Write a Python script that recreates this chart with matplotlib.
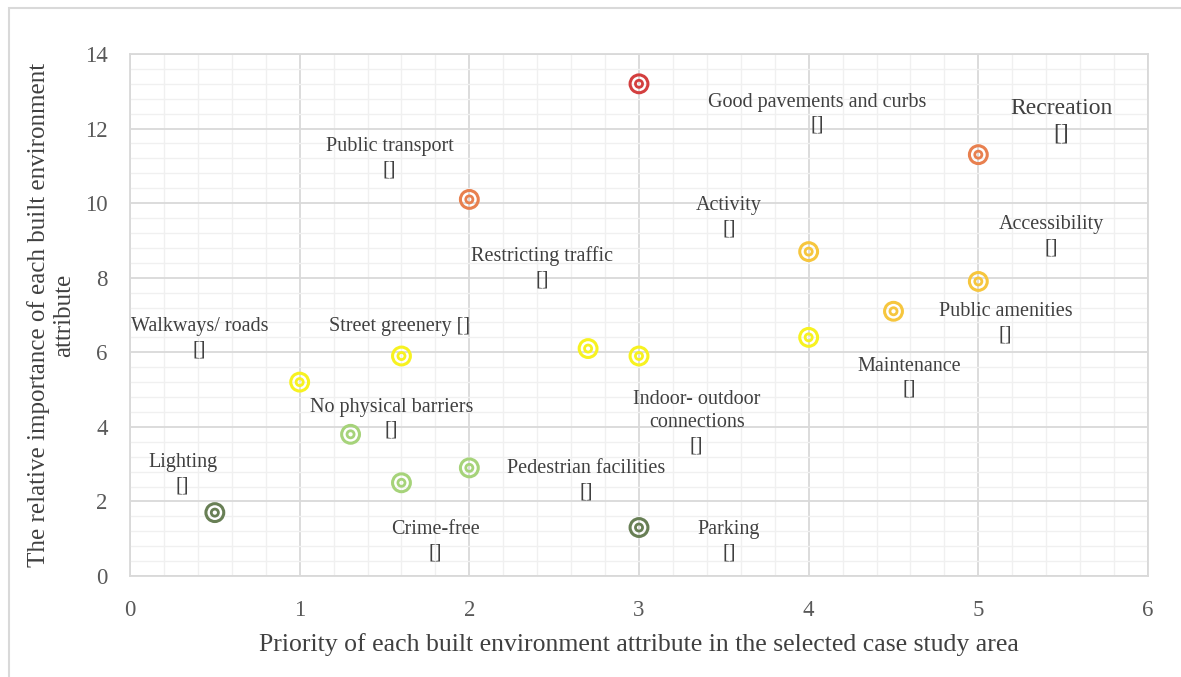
import matplotlib
matplotlib.use("Agg")
import matplotlib.pyplot as plt
from matplotlib.patches import Rectangle
from matplotlib.ticker import MultipleLocator

# Data
x_vals = [0.5, 1.0, 1.3, 1.6, 1.6, 2.0, 2.0, 2.7, 3.0, 3.0, 3.0, 4.0, 4.0, 4.5, 5.0, 5.0]
y_vals = [1.7, 5.2, 3.8, 5.9, 2.5, 2.9, 10.1, 6.1, 5.9, 13.2, 1.3, 8.7, 6.4, 7.1, 7.9, 11.3]
point_colors = ["#687f55", "#f7f220", "#a6d37a", "#f7f220", "#a6d37a", "#a6d37a",
                "#e8804f", "#f7f220", "#f7f220", "#d33f3f", "#687f55", "#f6c63e",
                "#f7f220", "#f6c63e", "#f6c63e", "#e8804f"]

label_texts = ["Public transport\n[]", "Good pavements and curbs\n[]", "Recreation\n[]",
               "Activity\n[]", "Accessibility\n[]", "Restricting traffic\n[]",
               "Walkways/ roads\n[]", "Street greenery []", "Public amenities\n[]",
               "Maintenance\n[]", "No physical barriers\n[]",
               "Indoor- outdoor\nconnections\n[]", "Lighting\n[]",
               "Pedestrian facilities\n[]", "Crime-free\n[]", "Parking\n[]"]
label_x = [1.53, 4.05, 5.49, 3.53, 5.43, 2.43, 0.41, 1.59, 5.16, 4.59, 1.54, 3.34, 0.31, 2.69, 1.8, 3.53]
label_y = [11.2, 12.4, 12.2, 9.62, 9.12, 8.27, 6.38, 6.7, 6.77, 5.32, 4.22, 4.12, 2.72, 2.57, 0.93, 0.93]

x_label = "Priority of each built environment attribute in the selected case study area"
y_label = "The relative importance of each built environment\nattribute"

FONT = ["Liberation Serif", "DejaVu Serif"]

fig = plt.figure(figsize=(11.81, 6.77), dpi=100)
fig.patches.append(Rectangle((9.5/1181, -0.1), 1.2, 1.1 - 8/677, transform=fig.transFigure,
                             fill=False, edgecolor="#d9d9d9", lw=1.5))
ax = fig.add_axes([130/1181, 1 - 576/677, (1148 - 130)/1181, (576 - 54)/677])

ax.set_xlim(0, 6)
ax.set_ylim(0, 14)
ax.xaxis.set_major_locator(MultipleLocator(1))
ax.yaxis.set_major_locator(MultipleLocator(2))
ax.xaxis.set_minor_locator(MultipleLocator(0.2))
ax.yaxis.set_minor_locator(MultipleLocator(0.4))
ax.grid(which="major", color="#d9d9d9", lw=1.3)
ax.grid(which="minor", color="#f0f0f0", lw=1.0)
ax.set_axisbelow(True)
for s in ax.spines.values():
    s.set_color("#d9d9d9")
    s.set_linewidth(1.3)
ax.tick_params(which="both", length=0, labelsize=16.5, labelcolor="#595959")
ax.tick_params(axis="x", pad=17)
ax.tick_params(axis="y", pad=16)
for lab in ax.get_xticklabels() + ax.get_yticklabels():
    lab.set_family(FONT)

ax.scatter(x_vals, y_vals, s=165, facecolors="none", edgecolors=point_colors, linewidths=2.2, zorder=3)
ax.scatter(x_vals, y_vals, s=26, facecolors="none", edgecolors=point_colors, linewidths=2.0, zorder=3)

for t, lx, ly in zip(label_texts, label_x, label_y):
    fs = 17 if t.startswith("Recreation") else 14.5
    ax.text(lx, ly, t, ha="center", va="center", fontsize=fs, color="#404040",
            family=FONT, linespacing=1.3, zorder=4)

ax.set_xlabel(x_label, fontsize=18.5, color="#404040", family=FONT, labelpad=9)
ax.set_ylabel(y_label, fontsize=18, color="#404040", family=FONT, labelpad=7)

fig.savefig("out.png", dpi=100)
